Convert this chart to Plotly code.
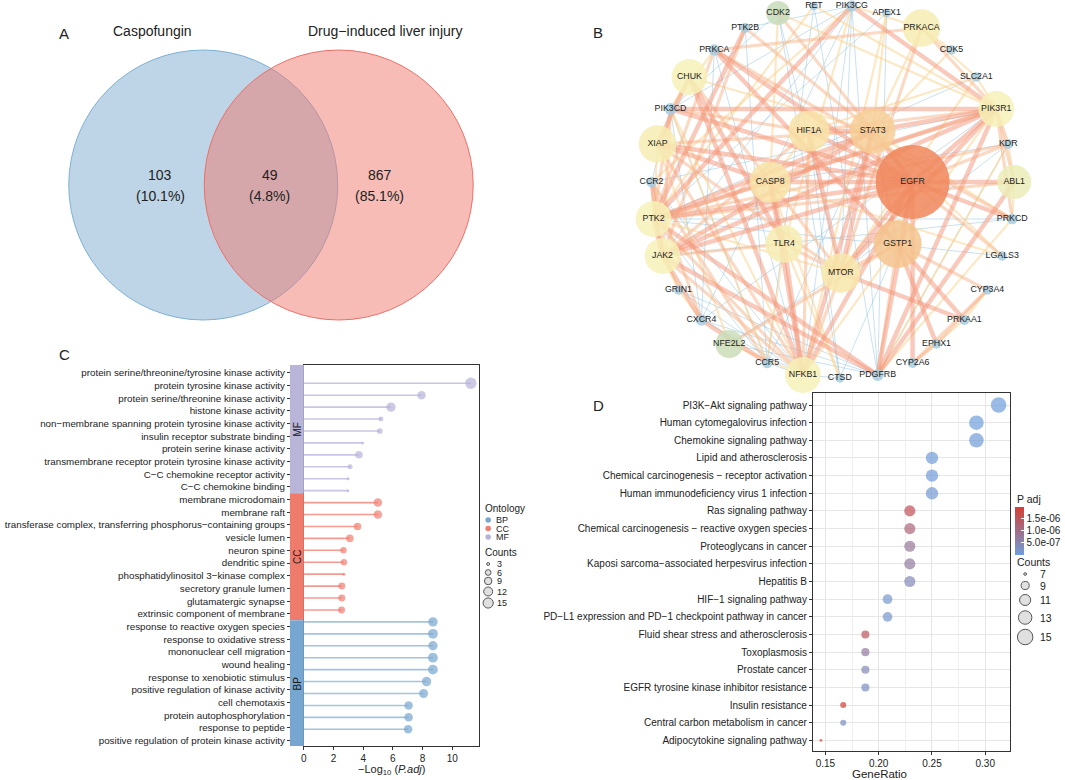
import numpy as np
import plotly.graph_objects as go

W, H = 1065, 780
FONT = "Liberation Sans, Arial, sans-serif"
TXT = "#222222"

# ---------------- Panel A: Venn data ----------------
venn_sets = ["Caspofungin", "Drug−induced liver injury"]
venn_counts = [103, 49, 867]
venn_pct = ["10.1%", "4.8%", "85.1%"]

# ---------------- Panel B: PPI network data ----------------
net_nodes = ["CDK2", "RET", "PIK3CG", "APEX1", "PRKACA", "PTK2B", "CDK5", "PRKCA",
             "SLC2A1", "CHUK", "PIK3CD", "PIK3R1", "HIF1A", "STAT3", "XIAP", "KDR",
             "CASP8", "EGFR", "CCR2", "ABL1", "PTK2", "PRKCD", "TLR4", "GSTP1",
             "JAK2", "LGALS3", "MTOR", "GRIN1", "CYP3A4", "CXCR4", "PRKAA1", "NFE2L2",
             "EPHX1", "CCR5", "NFKB1", "CTSD", "PDGFRB", "CYP2A6"]
net_degree = [12, 3, 7, 3, 19, 5, 4, 7,
              4, 18, 8, 18, 21, 23, 19, 5,
              21, 30, 6, 17, 18, 6, 19, 24,
              18, 4, 20, 4, 4, 7, 5, 13,
              4, 6, 18, 4, 8, 5]
edge_src_thick = ["EGFR", "EGFR", "EGFR", "EGFR", "EGFR", "EGFR", "EGFR", "EGFR", "EGFR", "EGFR",
                  "EGFR", "EGFR", "EGFR", "EGFR", "STAT3", "STAT3", "STAT3", "STAT3", "STAT3",
                  "STAT3", "PIK3CD", "PIK3CG", "PIK3CG", "PTK2B", "CHUK", "CHUK", "XIAP",
                  "CASP8", "CASP8", "TLR4", "MTOR", "MTOR", "MTOR", "PDGFRB", "PDGFRB",
                  "PDGFRB", "PDGFRB", "PIK3R1", "PIK3R1", "GSTP1", "GSTP1", "JAK2", "CCR2",
                  "CXCR4", "JAK2", "CHUK", "PRKCA", "XIAP"]
edge_dst_thick = ["STAT3", "PTK2", "JAK2", "PIK3R1", "PDGFRB", "ABL1", "PRKCD", "NFKB1", "MTOR",
                  "HIF1A", "CASP8", "PRKCA", "PIK3CD", "CYP2A6", "JAK2", "HIF1A", "PTK2",
                  "NFKB1", "PIK3R1", "MTOR", "PIK3R1", "PIK3R1", "PTK2", "PTK2", "NFKB1",
                  "TLR4", "CASP8", "NFKB1", "TLR4", "NFKB1", "PRKAA1", "HIF1A", "PIK3R1",
                  "PIK3R1", "PTK2", "JAK2", "ABL1", "PTK2", "JAK2", "EPHX1", "PRKAA1",
                  "CXCR4", "JAK2", "CCR5", "PTK2", "XIAP", "GSTP1", "EGFR"]
edge_src_mid = ["HIF1A", "HIF1A", "STAT3", "GSTP1", "GSTP1", "NFKB1", "NFKB1", "NFKB1", "NFKB1",
                "NFKB1", "PRKACA", "PRKACA", "PRKACA", "KDR", "KDR", "ABL1", "ABL1", "PRKCD",
                "PRKCD", "LGALS3", "CYP3A4", "EPHX1", "CYP3A4", "NFE2L2", "CDK2", "CHUK",
                "CASP8", "HIF1A", "TLR4", "TLR4", "XIAP", "PTK2", "XIAP", "PIK3CD", "GSTP1",
                "GSTP1", "CASP8", "CCR2", "CCR2", "PRKCA", "EGFR", "PTK2B", "PTK2B"]
edge_dst_mid = ["PIK3CD", "PIK3R1", "CASP8", "STAT3", "MTOR", "XIAP", "PTK2", "MTOR", "JAK2",
                "HIF1A", "PIK3R1", "MTOR", "PRKCA", "PIK3R1", "PTK2", "PTK2", "PIK3R1", "PRKCA",
                "PIK3R1", "EGFR", "CYP2A6", "CYP2A6", "EPHX1", "GSTP1", "STAT3", "MTOR",
                "PTK2", "JAK2", "JAK2", "MTOR", "MTOR", "PIK3CD", "STAT3", "JAK2", "CYP3A4",
                "PDGFRB", "PIK3R1", "CCR5", "CXCR4", "PTK2", "KDR", "JAK2", "STAT3"]
edge_src_light = ["PRKACA", "PRKACA", "PRKACA", "RET", "RET", "APEX1", "APEX1", "SLC2A1", "SLC2A1",
                  "SLC2A1", "CDK5", "CDK2", "CDK2", "ABL1", "ABL1", "LGALS3", "LGALS3", "PRKAA1",
                  "CTSD", "CTSD", "GRIN1", "GRIN1", "GRIN1", "NFE2L2", "NFE2L2", "PDGFRB",
                  "PDGFRB", "PIK3CG", "PIK3CG", "CCR5", "CCR5", "CCR2", "XIAP", "CHUK", "CHUK",
                  "PRKCA", "HIF1A", "EGFR", "PRKCD", "MTOR", "PIK3R1", "PIK3CD", "PRKACA",
                  "CYP2A6"]
edge_dst_light = ["PIK3CG", "CDK5", "SLC2A1", "PIK3R1", "PTK2", "STAT3", "NFKB1", "PIK3R1", "MTOR",
                  "HIF1A", "STAT3", "PIK3R1", "CASP8", "PRKCD", "KDR", "STAT3", "CASP8", "CYP3A4",
                  "CASP8", "TLR4", "PTK2", "JAK2", "CXCR4", "NFKB1", "XIAP", "KDR", "PRKCD",
                  "TLR4", "CCR2", "TLR4", "PIK3CD", "PTK2", "PTK2", "PIK3CD", "STAT3", "PIK3CD",
                  "CASP8", "GSTP1", "STAT3", "PTK2", "NFKB1", "NFKB1", "STAT3", "PRKAA1"]
edge_src_thin = ["PIK3CG", "PIK3CG", "PIK3CG", "PIK3CG", "PIK3CG", "CDK2", "CDK2", "CDK2", "APEX1",
                 "APEX1", "PRKCA", "PRKCA", "PIK3CD", "PIK3CD", "PIK3CD", "CCR2", "CCR2", "CXCR4",
                 "CXCR4", "CXCR4", "CCR5", "CCR5", "CCR5", "CTSD", "CTSD", "CTSD", "KDR", "KDR",
                 "KDR", "LGALS3", "PRKCD", "PRKCD", "GRIN1", "GRIN1", "NFE2L2", "NFE2L2", "RET",
                 "RET", "PIK3CG", "PTK2B", "PTK2B", "SLC2A1"]
edge_dst_thin = ["JAK2", "NFKB1", "CXCR4", "MTOR", "PDGFRB", "PIK3CD", "MTOR", "CTSD", "PDGFRB",
                 "PTK2", "CXCR4", "NFKB1", "CXCR4", "CCR2", "CCR5", "PIK3R1", "NFKB1", "PIK3R1",
                 "NFKB1", "PDGFRB", "NFKB1", "STAT3", "PTK2", "NFKB1", "GSTP1", "HIF1A", "CASP8",
                 "PDGFRB", "MTOR", "PTK2", "JAK2", "PTK2", "PDGFRB", "NFKB1", "MTOR", "PDGFRB",
                 "PDGFRB", "CCR5", "PIK3CD", "CCR5", "PIK3CG", "PTK2"]

# ---------------- Panel C: GO enrichment ----------------
go_terms = [
    "protein serine/threonine/tyrosine kinase activity",
    "protein tyrosine kinase activity",
    "protein serine/threonine kinase activity",
    "histone kinase activity",
    "non−membrane spanning protein tyrosine kinase activity",
    "insulin receptor substrate binding",
    "protein serine kinase activity",
    "transmembrane receptor protein tyrosine kinase activity",
    "C−C chemokine receptor activity",
    "C−C chemokine binding",
    "membrane microdomain",
    "membrane raft",
    "transferase complex, transferring phosphorus−containing groups",
    "vesicle lumen",
    "neuron spine",
    "dendritic spine",
    "phosphatidylinositol 3−kinase complex",
    "secretory granule lumen",
    "glutamatergic synapse",
    "extrinsic component of membrane",
    "response to reactive oxygen species",
    "response to oxidative stress",
    "mononuclear cell migration",
    "wound healing",
    "response to xenobiotic stimulus",
    "positive regulation of kinase activity",
    "cell chemotaxis",
    "protein autophosphorylation",
    "response to peptide",
    "positive regulation of protein kinase activity",
]
go_ontology = ["MF"] * 10 + ["CC"] * 10 + ["BP"] * 10
go_neglog = [11.26, 7.93, 5.87, 5.19, 5.12, 3.96, 3.71, 3.12, 2.99, 2.97,
             4.99, 4.99, 3.62, 3.10, 2.67, 2.70, 2.70, 2.56, 2.56, 2.54,
             8.70, 8.70, 8.70, 8.70, 8.70, 8.27, 8.07, 7.06, 7.06, 7.03]
go_counts = [18, 11, 13, 5, 6, 3, 9, 5, 3, 3,
             11, 11, 9, 9, 7, 7, 3, 8, 8, 8,
             13, 14, 13, 14, 14, 13, 12, 11, 11, 11]
ont_order = ["BP", "CC", "MF"]
ont_dot = {"BP": "#77a7d0", "CC": "#f07e71", "MF": "#b7b2da"}
ont_line = {"BP": "#a3c4e1", "CC": "#f59a91", "MF": "#c9c5e5"}
ont_strip = {"BP": "#77a7d0", "CC": "#ef7b6d", "MF": "#b9b5d9"}
go_count_breaks = [3, 6, 9, 12, 15]

# ---------------- Panel D: KEGG enrichment ----------------
kegg_terms = [
    "PI3K−Akt signaling pathway",
    "Human cytomegalovirus infection",
    "Chemokine signaling pathway",
    "Lipid and atherosclerosis",
    "Chemical carcinogenesis − receptor activation",
    "Human immunodeficiency virus 1 infection",
    "Ras signaling pathway",
    "Chemical carcinogenesis − reactive oxygen species",
    "Proteoglycans in cancer",
    "Kaposi sarcoma−associated herpesvirus infection",
    "Hepatitis B",
    "HIF−1 signaling pathway",
    "PD−L1 expression and PD−1 checkpoint pathway in cancer",
    "Fluid shear stress and atherosclerosis",
    "Toxoplasmosis",
    "Prostate cancer",
    "EGFR tyrosine kinase inhibitor resistance",
    "Insulin resistance",
    "Central carbon metabolism in cancer",
    "Adipocytokine signaling pathway",
]
kegg_ratio = [0.3125, 0.2917, 0.2917, 0.2500, 0.2500, 0.2500, 0.2292, 0.2292, 0.2292, 0.2292,
              0.2292, 0.2083, 0.2083, 0.1875, 0.1875, 0.1875, 0.1875, 0.1667, 0.1667, 0.1458]
kegg_counts = [15, 14, 14, 12, 12, 12, 11, 11, 11, 11, 11, 10, 10, 9, 9, 9, 9, 8, 8, 7]
kegg_padj = [1.0e-9, 5.0e-9, 2.0e-8, 5.0e-8, 6.0e-8, 8.0e-8, 1.55e-6, 1.15e-6, 7.5e-7, 7.0e-7,
             4.0e-7, 1.5e-7, 1.8e-7, 1.45e-6, 7.0e-7, 4.0e-7, 3.0e-7, 1.95e-6, 3.0e-7, 1.9e-6]
kegg_count_breaks = [7, 9, 11, 13, 15]
kegg_padj_ticks = [5.0e-7, 1.0e-6, 1.5e-6]
kegg_padj_ticktext = ["5.0e-07", "1.0e-06", "1.5e-06"]

# ================= layout helpers =================
def px(x):
    return x / W

def py(y):
    return 1 - y / H

annotations = []
shapes = []

def label(x, y, text, size=10, xanchor="center", yanchor="middle", color=TXT, angle=0):
    annotations.append(dict(x=px(x), y=py(y), xref="paper", yref="paper", text=text,
                            showarrow=False, xanchor=xanchor, yanchor=yanchor, textangle=angle,
                            font=dict(family=FONT, size=size, color=color)))

fig = go.Figure()

# ---------- Panel A: Venn (canvas axis x/y in pixel units) ----------
venn_geom = [(201, 185, 135), (337, 185, 135)]
venn_fill = ["rgba(123,171,205,0.5)", "rgba(239,121,109,0.5)"]
venn_edge = ["#7fb0d6", "#ee6f69"]
for (cx, cy, r), f, e in zip(venn_geom, venn_fill, venn_edge):
    shapes.append(dict(type="circle", xref="x", yref="y", x0=cx - r, x1=cx + r,
                       y0=cy - r, y1=cy + r, fillcolor=f, line=dict(color=e, width=1),
                       layer="below"))
label(61, 34, "A", 15)
label(150, 31, venn_sets[0], 14)
label(383, 31, venn_sets[1], 14)
venn_text_x = [158, 268, 378]
for xx, c, p in zip(venn_text_x, venn_counts, venn_pct):
    label(xx, 175, str(c), 14)
    label(xx, 196, "(" + p + ")", 14)

# ---------- Panel B: network ----------
node_layout = {
    "CDK2": (778, 13), "RET": (814, 6), "PIK3CG": (852, 6), "APEX1": (887, 13),
    "PRKACA": (922, 28), "PTK2B": (745, 28), "CDK5": (952, 50), "PRKCA": (714, 50),
    "SLC2A1": (977, 77), "CHUK": (689, 77), "PIK3CD": (670, 109), "PIK3R1": (997, 109),
    "HIF1A": (809, 131), "STAT3": (873, 131), "XIAP": (657, 144), "KDR": (1009, 144),
    "CASP8": (770, 182), "EGFR": (913, 182), "CCR2": (651, 182), "ABL1": (1015, 182),
    "PTK2": (653, 219), "PRKCD": (1013, 219), "TLR4": (784, 244), "GSTP1": (898, 244),
    "JAK2": (662, 256), "LGALS3": (1003, 256), "MTOR": (841, 273), "GRIN1": (678, 290),
    "CYP3A4": (988, 290), "CXCR4": (701, 320), "PRKAA1": (965, 320), "NFE2L2": (729, 344),
    "EPHX1": (937, 344), "CCR5": (767, 363), "NFKB1": (803, 375), "CTSD": (840, 378),
    "PDGFRB": (878, 375), "CYP2A6": (913, 363),
}
nx = [node_layout[n][0] for n in net_nodes]
ny = [node_layout[n][1] for n in net_nodes]

edge_styles = [
    (edge_src_thin, edge_dst_thin, "rgba(120,180,215,0.5)", 0.8),
    (edge_src_light, edge_dst_light, "rgba(249,214,150,0.55)", 2.2),
    (edge_src_mid, edge_dst_mid, "rgba(247,182,140,0.5)", 3.2),
    (edge_src_thick, edge_dst_thick, "rgba(243,150,120,0.5)", 4.5),
]
for src, dst, col, wdt in edge_styles:
    ex, ey = [], []
    for a, b in zip(src, dst):
        ex += [node_layout[a][0], node_layout[b][0], None]
        ey += [node_layout[a][1], node_layout[b][1], None]
    fig.add_trace(go.Scatter(x=ex, y=ey, mode="lines", xaxis="x", yaxis="y",
                             line=dict(color=col, width=wdt), hoverinfo="skip",
                             showlegend=False))

deg_arr = np.array(net_degree, dtype=float)
node_diam = np.interp(deg_arr, [2, 8, 12, 13, 17, 21, 24, 30], [8, 12, 24, 28, 34, 41, 48, 74])
stops_d = [2, 8, 12, 14, 18, 21, 24, 30]
stops_c = [(166, 205, 225), (166, 205, 225), (200, 220, 185), (205, 222, 185),
           (246, 241, 183), (248, 226, 166), (245, 196, 142), (240, 135, 92)]
node_col = []
for d in deg_arr:
    rgb = [int(np.interp(d, stops_d, [c[k] for c in stops_c])) for k in range(3)]
    node_col.append("rgb(%d,%d,%d)" % tuple(rgb))
fig.add_trace(go.Scatter(x=nx, y=ny, mode="markers", xaxis="x", yaxis="y",
                         marker=dict(size=node_diam, color=node_col, opacity=0.85,
                                     line=dict(width=0)),
                         hoverinfo="skip", showlegend=False))
fig.add_trace(go.Scatter(x=nx, y=ny, mode="text", xaxis="x", yaxis="y", text=net_nodes,
                         textfont=dict(family=FONT, size=8.8, color=TXT),
                         hoverinfo="skip", showlegend=False))
label(597, 33, "B", 15)

# ---------- Panel C: GO lollipop ----------
n_go = len(go_terms)
go_size = [float(np.sqrt(9 + (c - 3) / 15 * (128 - 9))) for c in go_counts]
for ont in ["MF", "CC", "BP"]:
    idx = [i for i, o in enumerate(go_ontology) if o == ont]
    lx, ly = [], []
    for i in idx:
        lx += [0, go_neglog[i], None]
        ly += [i, i, None]
    fig.add_trace(go.Scatter(x=lx, y=ly, mode="lines", xaxis="x2", yaxis="y2",
                             line=dict(color=ont_line[ont], width=1.6),
                             hoverinfo="skip", showlegend=False))
    fig.add_trace(go.Scatter(x=[go_neglog[i] for i in idx], y=idx, mode="markers",
                             xaxis="x2", yaxis="y2",
                             marker=dict(size=[go_size[i] for i in idx], color=ont_dot[ont],
                                         line=dict(width=0)),
                             text=[go_terms[i] for i in idx], showlegend=False))
# category label axis (overlay)
fig.add_trace(go.Scatter(x=[0] * n_go, y=go_terms, mode="markers", xaxis="x2", yaxis="y3",
                         marker=dict(size=1, opacity=0), hoverinfo="skip", showlegend=False))

# strips
for ont, (a, b) in {"MF": (-0.607, 9.5), "CC": (9.5, 19.5), "BP": (19.5, 29.42)}.items():
    shapes.append(dict(type="rect", xref="paper", yref="y3", x0=px(288), x1=px(302),
                       y0=a, y1=b, fillcolor=ont_strip[ont], line=dict(width=0), layer="above"))
    annotations.append(dict(x=px(295.5), y=(a + b) / 2, xref="paper", yref="y3", text=ont,
                            showarrow=False, textangle=-90, xanchor="center",
                            yanchor="middle",
                            font=dict(family=FONT, size=10, color="#1a1a1a")))
label(62, 355, "C", 15)
label(390, 770, "−Log<sub>10</sub> (<i>P.adj</i>)", 11)

# C legends
label(482, 508, "Ontology", 10, xanchor="left")
ont_leg_y = [520, 528.5, 537]
fig.add_trace(go.Scatter(x=[487] * 3, y=ont_leg_y, mode="markers", xaxis="x", yaxis="y",
                         marker=dict(size=5.5, color=[ont_dot[o] for o in ont_order]),
                         hoverinfo="skip", showlegend=False))
for o, yy in zip(ont_order, ont_leg_y):
    label(493, yy, o, 9, xanchor="left")
label(482, 552, "Counts", 10, xanchor="left")
c_leg_y = [564, 572.5, 581, 591.5, 603]
fig.add_trace(go.Scatter(x=[487] * 5, y=c_leg_y, mode="markers", xaxis="x", yaxis="y",
                         marker=dict(size=[float(np.sqrt(9 + (c - 3) / 15 * (128 - 9)))
                                           for c in go_count_breaks],
                                     color="#d3d3d3", line=dict(color="#111", width=1)),
                         hoverinfo="skip", showlegend=False))
for c, yy in zip(go_count_breaks, c_leg_y):
    label(494, yy, str(c), 9, xanchor="left")

# ---------- Panel D: KEGG bubble ----------
def kegg_diam(c):
    return float(np.sqrt(7.29 + (c - 7) / 8 * (240.25 - 7.29)))

fig.add_trace(go.Scatter(
    x=kegg_ratio, y=kegg_terms, mode="markers", xaxis="x4", yaxis="y4",
    marker=dict(size=[kegg_diam(c) for c in kegg_counts], color=kegg_padj,
                colorscale=[[0, "#6e9edb"], [1, "#d63c33"]], line=dict(width=0),
                showscale=True,
                colorbar=dict(x=px(1016), xanchor="left", y=py(555), yanchor="bottom",
                              len=48 / H, lenmode="fraction", thickness=9, outlinewidth=0,
                              xpad=0, ypad=0,
                              tickvals=kegg_padj_ticks, ticktext=kegg_padj_ticktext,
                              ticks="inside", ticklen=3, tickcolor="white",
                              tickfont=dict(family=FONT, size=10, color=TXT))),
    showlegend=False))
label(1016, 499, "P adj", 10.5, xanchor="left")
label(598, 405, "D", 15)
label(880, 774, "GeneRatio", 11.5)
label(1016, 562, "Counts", 10.5, xanchor="left")
d_leg_y = [574, 585.5, 600, 617.5, 637]
fig.add_trace(go.Scatter(x=[1026] * 5, y=d_leg_y, mode="markers", xaxis="x", yaxis="y",
                         marker=dict(size=[kegg_diam(c) for c in kegg_count_breaks],
                                     color="#d3d3d3", line=dict(color="#111", width=1)),
                         hoverinfo="skip", showlegend=False))
for c, yy in zip(kegg_count_breaks, d_leg_y):
    label(1039, yy, str(c), 10.5, xanchor="left")

# ================= axes =================
tickfont = dict(family=FONT, size=10, color=TXT)
labfont_c = dict(family=FONT, size=9.8, color=TXT)
labfont_d = dict(family=FONT, size=10, color=TXT)
fig.update_layout(
    width=W, height=H, margin=dict(l=0, r=0, t=0, b=0),
    paper_bgcolor="white", plot_bgcolor="rgba(0,0,0,0)",
    font=dict(family=FONT, color=TXT),
    showlegend=False,
    xaxis=dict(domain=[0, 1], range=[0, W], visible=False, fixedrange=True),
    yaxis=dict(domain=[0, 1], range=[H, 0], visible=False, fixedrange=True),
    # C data axes
    xaxis2=dict(domain=[px(302), px(477.7)], anchor="y2", range=[0, 11.8],
                tickvals=[0, 2, 4, 6, 8, 10], ticks="outside", ticklen=3, tickcolor="#333",
                tickfont=tickfont, showgrid=False, zeroline=False, showline=True,
                linecolor="#333", linewidth=1, mirror=True),
    yaxis2=dict(domain=[py(746), py(365)], anchor="x2", range=[30.4, -1.53],
                showticklabels=False, ticks="", showgrid=False, zeroline=False,
                showline=True, linecolor="#333", linewidth=1, mirror=True),
    yaxis3=dict(overlaying="y2", anchor="free", position=px(288), side="left",
                type="category", categoryorder="array", categoryarray=go_terms,
                range=[29.42, -0.607], tickmode="array", tickvals=go_terms,
                ticks="outside", ticklen=3, tickcolor="#333", tickfont=labfont_c,
                showgrid=False, zeroline=False, showline=False),
    # D axes
    xaxis4=dict(domain=[px(813), px(1011)], anchor="y4", range=[0.1383, 0.3234],
                tickvals=[0.15, 0.20, 0.25, 0.30], ticktext=["0.15", "0.20", "0.25", "0.30"],
                ticks="outside", ticklen=3, tickcolor="#333", tickfont=tickfont,
                showgrid=True, gridcolor="#e6e6e6", gridwidth=1,
                minor=dict(tickvals=[0.125, 0.175, 0.225, 0.275, 0.325], showgrid=True,
                           gridcolor="#efefef", gridwidth=0.6),
                zeroline=False, showline=True, linecolor="#333", linewidth=1, mirror=True),
    yaxis4=dict(domain=[py(751), py(393)], anchor="x4", type="category",
                categoryorder="array", categoryarray=kegg_terms, range=[19.6, -0.68],
                tickmode="array", tickvals=kegg_terms, ticks="outside", ticklen=3,
                tickcolor="#333", tickfont=labfont_d, showgrid=True, gridcolor="#e6e6e6",
                gridwidth=1, zeroline=False, showline=True, linecolor="#333", linewidth=1,
                mirror=True),
    annotations=annotations,
    shapes=shapes,
)

fig.write_html("out.html", config={"displayModeBar": False},
               post_script="document.body.style.margin='0';document.body.style.overflow='hidden';")
